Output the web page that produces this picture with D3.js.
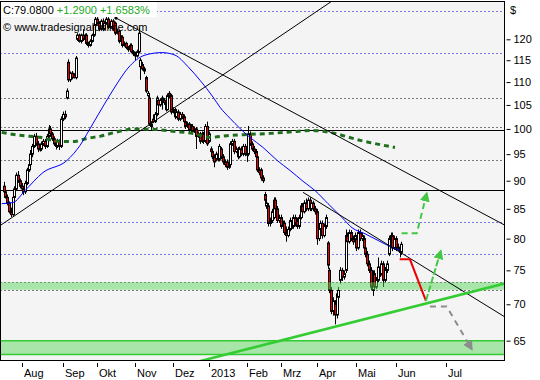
<!DOCTYPE html>
<html><head><meta charset="utf-8">
<script src="https://cdn.jsdelivr.net/npm/d3@7"></script>
<style>
body{margin:0;background:#fff}
svg{display:block}
text{font-family:"Liberation Sans",Arial,sans-serif;font-size:11px}
</style>
</head><body>
<svg id="c" width="540" height="380"></svg>
<script>
// ---- daily OHLC bars, 18 Jul 2012 onwards ----
const ohlc = [
[89,89.8,87.6,88],[88,88.6,86.8,87],[87,87.5,85.6,86],[86,86.3,84.2,84.5],[84.5,85.2,83.6,84],
[84,87.4,83.8,87],[87,89,86.6,88.5],[88.5,91.5,88.2,91],[91,91.8,89.6,90],[90,90.4,88.6,89],
[89,89.6,87.8,88.5],[88.5,89,87.4,88],[88,90,87.6,89.5],[89.5,92.4,89.2,92],[92,93.5,91.6,93],
[93,95.8,92.8,95],[95,97,94.4,96.5],[96.5,99,96.2,98.5],[98.5,99.2,96.6,97],[97,97.6,95.4,96],
[96,97,95.5,96],[96,97.5,95.6,97],[97,98,96.6,97.5],[97.5,98,96,96.5],[96.5,99,96.2,98.5],
[98.5,100.8,98.2,100],[100,100.6,98.6,99],[99,99.4,97.6,98],[98,98.5,96.6,97],[97,97.4,95.9,96.5],
[96.5,98,96.2,97.5],[97.5,97.9,95.8,96.5],[96.5,102.6,96.2,102],[102,103.6,101.6,103],[103,103.8,102,102.5],
[106.5,108.6,106.2,108],[114.5,115.2,110,110.5],[110.5,112.4,110,112],[112,112.5,110.6,111],[111.5,112,110.8,111],
[111,116,110.6,115.5],[120,121.5,119.6,121],[121,121.4,119.2,119.5],[119.5,121.4,119,121],[121,122.5,119.6,120],
[120,121.4,119.6,121],[121,121.5,118.6,119],[119,119.4,118,118.5],[118.5,120,118.2,119.5],[119.5,121.4,119.2,121],
[121,124,120.6,123.5],[123.5,125.8,123.2,125],[125,126,123.6,124],[124,124.5,122,122.5],[122.5,125,122.2,124.5],
[124.5,125.2,122,122.5],[122.5,124.5,122.2,124],[124,126,123.6,125],[125,125.5,122.6,123],[123,124,122.6,123.5],
[123,125,122.6,124.5],[124.5,125,122,122.5],[124,124.4,121,121.5],[121.5,122.6,121.2,122],[122,122.4,119,119.5],
[119.5,121,119.2,120.5],[120.5,121,118,118.5],[118.5,119.5,118.2,119],[119,119.4,117.6,118],[118,118.4,117,117.5],
[117.5,119,117.2,118.5],[118.5,119,116.6,117],[117,117.4,116,116.5],[116.5,117,115,116],[116,117.5,115.6,117],
[117,122.8,116.6,121.5],[113.5,115.5,110.5,115],[114,114.6,112.6,113],[113,113.5,111.8,112.5],[111,111.4,107.6,108],
[107,108,106.6,107.5],[106.5,107,100.6,101],[101,101.6,99.8,100.5],[102,103,101.2,101.5],[101.5,103.5,101.2,103],
[103,107,102.6,106.5],[106,106.5,104.6,105],[105,106.4,104.6,106],[106,107,104,106.5],[106,106.5,105,105.5],
[105.5,106,103.6,104],[104,107.5,103.8,107],[107.5,108,106.5,107],[107,107.4,103,103.5],[103.5,104.5,103.2,104],
[104,104.4,102,102.5],[102.5,104,102.2,103.5],[103.5,104,101.6,102],[102,103.5,101.6,103],[103,103.5,102,102.5],
[102.5,103,101,101.5],[101.5,102,100,100.5],[100.5,101.5,100.2,101],[101,101.4,99.4,99.8],[99.8,101,99.5,100.5],
[100.5,101,99,99.5],[99.5,100.5,99.2,100],[100,100.4,96,98.5],[98.5,99.5,98.2,99],[99,99.4,97,97.5],
[97.5,99.5,97.2,99],[99,99.4,97,97.5],[97.5,101,97.2,100.5],[100.5,101.5,96.6,97],[97.5,99.5,97.2,99],
[96,96.5,95,95.5],[95.5,96,94,94.5],[94.5,95,92.5,93.5],[94,95.5,93.6,95],[95,95.4,93.6,94],
[94,97,93.6,96.5],[96,96.4,94,94.5],[94.5,95,93,93.5],[93.5,94,92.5,93],[93.5,94,92,92.5],
[92.5,93.5,92.2,93],[93,97.5,92.6,97],[97,98,96.6,97.5],[97.5,98,95,95.5],[95.5,96.5,95.2,96],
[96,96.4,94,94.5],[94.5,96.5,94.2,96],[96,96.5,94.6,95],[95,97,94.6,96.5],[96.5,97,94.6,95],
[95,95.5,93.5,95],[95,100.6,94.6,99],[99,99.5,96.6,97],[97,97.5,95.6,96],[96,96.6,95,95.5],
[95.5,96,94,94.5],[94.5,95,91.6,92],[92,92.5,91,91.5],[92,92.4,90,90.5],[90.5,91,89.6,90],
[87.5,88,86,86.5],[85.5,86.5,85,86],[85.5,86,82,82.5],[82.5,83.5,82,83],[83,85,82.6,84.5],
[83.5,87,83.2,86.5],[86.5,87,84.6,85],[85,85.5,82.6,83],[83,84,82.6,83.5],[83.5,84,81.6,82],
[82,83,81.6,82.5],[82.5,83,80.6,81],[81,82,79.5,80.5],[80.5,82,80.2,81.5],[81.5,83.5,81.2,83],
[83,83.4,81.6,82],[82,84,81.6,83.5],[83.5,84,82,82.5],[83,83.5,81.6,82],[82,84,81.6,83.5],
[83.5,86,83.2,85.5],[85.5,86,84,84.5],[84.5,86.5,84.2,86],[86,86.8,84.6,85],[85,87,84.6,86.5],
[86.5,87,84.6,85],[85,86.5,84.6,86],[86,86.4,84.6,85],[85,85.5,84,84.5],[84.5,85,79,80],
[80,82,79.6,81.5],[81.5,83,81,82.5],[82.5,83,80,80.5],[80.5,82.5,80.2,82],[82,84,81.6,83.5],
[79.3,79.6,75.2,75.8],[75,75.4,71.6,72],[72,72.5,68.6,69],[69,71,68.4,70.5],[70,70.6,67.2,68.5],
[68.5,72,68,71.5],[71,72.5,70.6,72],[73.5,75.5,73,75],[75,75.4,73.4,74],[74,75,73.6,74.5],
[75,81.5,74.6,80.5],[80.5,81,79,79.5],[79.5,81.5,79.2,81],[81,81.4,79.6,80],[80,80.5,79,79.5],
[79.5,81,79.2,80.5],[80,80.4,78,78.5],[78.5,81.5,78.2,81],[81,81.5,79.6,80],[80,81,79.6,80.5],
[80,80.5,78,78.5],[78.5,79,77,77.5],[77.5,78,75.6,76],[76,76.5,74.6,75],[75,75.5,72,72.5],
[72,75,71.2,74.5],[74.5,75,72,72.5],[72.5,74,72.2,73.5],[73.5,77,73.2,75.5],[75.5,76,74,74.5],
[74.5,76.5,74.2,76],[76,76.4,72.5,73.5],[73.5,75.5,73.2,75],[75,76.5,74.6,76],[77.5,80.5,77.2,80],
[80,81,79.6,80.5],[80.5,81,78,78.5],[78.5,80.5,78.2,80],[80,80.4,78,78.5],[78.5,79.2,78,78.6],
[78.6,79,77,77.79],[77.79,79.5,77.4,79.08]
];

// moving averages: [bar index, price]
const blueMA = [[-1,85.9],[5.3,86.1],[11.9,88.2],[21.9,91.5],[35.3,93.8],[42.5,96.7],[47.5,99.7],[50.8,101.8],
 [56.4,105.4],[61.9,108.9],[69.2,113.2],[78.6,116.2],[88.1,116.8],[95.3,116.2],[102.5,113.5],[109.2,110.4],
 [116.4,106.7],[120.3,104.5],[125.8,102.2],[131.4,100.1],[136.9,98.3],[144.2,96.3],[152,93.8],[159.2,91.9],
 [166.4,89.9],[173.1,88.2],[180.3,85.9],[188.1,83.5],[193.6,81.8],[200.8,80.8],[208.1,79.7],[215.8,78.6],[220.3,78.1]];
const greenMA = [[-1,99.3],[9.2,98.7],[20.3,98.3],[31.4,97.5],[39.7,97.5],[46.4,98.1],[53.6,98.5],[61.9,99.3],
 [73.1,100.0],[84.2,99.9],[95.3,99.5],[106.4,99.0],[114.7,98.3],[125.8,98.7],[136.9,98.9],[148.1,99.1],
 [163.1,99.5],[170.3,99.7],[181.4,99.3],[198.1,97.7],[217.5,96.3]];

// axes
const monthLabels = ["Aug","Sep","Okt","Nov","Dez","2013","Feb","Mrz","Apr","Mai","Jun","Jul"];
const monthIdx    = [10,33,52,73,94,114,135,154,174,196,218,246];
const yTicks = [65,70,75,80,85,90,95,100,105,110,115,120];

// horizontal levels and zones
const hSolid = [99.8, 88.4];
const hDotBlack = [106.5, 100.3, 93.8, 73.2, 72.1];
const hDotBlue = [127.1, 116.7, 82.8, 77.6];
const zones = [[72.1,73.2],[63.2,65.0]];

// trend lines [index, price]
const trendUp = [[0.8,82.7],[158.1,122.1]];
const trendDown1 = [[62.5,125.3],[278,82.3]];
const trendDown2 = [[166.4,87.9],[278,68.3]];
const support = [[155.3,65.1],[278,73.0]];

// scenario paths
const projRed = [[220.1,76.7],[225.8,76.7],[234.7,70.5]];
const projUp = [[234.7,70.5],[242.9,78.0]];
const projDown = [[236.9,69.7],[246.2,69.7],[260.1,63.9]];
const projBreak = [[221.2,80.9],[229.6,80.9],[235.1,87.7]];

const header1 = "C:79.0800", header2 = "+1.2900 +1.6583%", copyright = "© www.tradesignalonline.com";

// ---------------- drawing ----------------
const svg = d3.select("#c");
const L = 0.5, R = 504.5, T = 1.5, B = 360.5;
const x = d3.scaleLinear().domain([0, ohlc.length - 1]).range([3.5, 3.5 + 1.8 * (ohlc.length - 1)]);
const y = d3.scaleLog().domain([65, 120]).range([340.7, 39.3]);

svg.append("rect").attr("width",540).attr("height",380).attr("fill","#fff");
svg.append("defs").append("clipPath").attr("id","clip").append("rect")
  .attr("x",L).attr("y",T).attr("width",R-L).attr("height",B-T);
const defs = svg.select("defs");
function marker(id,color){
  defs.append("marker").attr("id",id).attr("viewBox","0 0 10 10").attr("refX",8).attr("refY",5)
   .attr("markerWidth",5).attr("markerHeight",5).attr("orient","auto-start-reverse")
   .append("path").attr("d","M0,0L10,5L0,10z").attr("fill",color);
}
marker("mg","#44c844"); marker("mgr","#8c8c8c");

svg.append("rect").attr("x",L).attr("y",T).attr("width",R-L).attr("height",B-T).attr("fill","#f4f4f4");
const g = svg.append("g").attr("clip-path","url(#clip)");

// dotted levels
g.selectAll(".db").data(hDotBlack).join("line").attr("x1",L).attr("x2",R)
  .attr("y1",d=>Math.round(y(d))+0.5).attr("y2",d=>Math.round(y(d))+0.5)
  .attr("stroke","#000").attr("stroke-dasharray","1,3");
g.selectAll(".dbl").data(hDotBlue).join("line").attr("x1",L).attr("x2",R)
  .attr("y1",d=>Math.round(y(d))+0.5).attr("y2",d=>Math.round(y(d))+0.5)
  .attr("stroke","#0000cc").attr("stroke-dasharray","1,3");
g.selectAll(".hs").data(hSolid).join("line").attr("x1",L).attr("x2",R)
  .attr("y1",d=>Math.round(y(d))+0.5).attr("y2",d=>Math.round(y(d))+0.5)
  .attr("stroke","#000");

// candles
const cg = g.append("g");
ohlc.forEach((d,i)=>{
  const cx = Math.round(x(i)) + 0.5;
  const [o,h,l,c] = d;
  cg.append("line").attr("x1",cx).attr("x2",cx).attr("y1",y(h)).attr("y2",y(l)).attr("stroke","#000");
  const top = y(Math.max(o,c)), bot = y(Math.min(o,c));
  cg.append("rect").attr("x",cx-1).attr("width",2).attr("y",top).attr("height",Math.max(1,bot-top))
    .attr("fill", c < o ? "#ee0000" : "#fff").attr("stroke","#000").attr("stroke-width",1);
});

// zones (translucent, over candles)
g.selectAll(".zone").data(zones).join("rect").attr("x",L).attr("width",R-L)
  .attr("y",d=>y(d[1])).attr("height",d=>y(d[0])-y(d[1]))
  .attr("fill","#5cd65c").attr("opacity",0.5);
g.append("line").attr("x1",L).attr("x2",R).attr("y1",y(zones[1][1])).attr("y2",y(zones[1][1]))
  .attr("stroke","#33cc33").attr("stroke-width",1.5);
g.append("line").attr("x1",L).attr("x2",R).attr("y1",y(zones[1][0])).attr("y2",y(zones[1][0]))
  .attr("stroke","#33cc33").attr("stroke-width",1.5);

const line = d3.line().x(d=>x(d[0])).y(d=>y(d[1]));

// moving averages
g.append("path").datum(greenMA).attr("d",line.curve(d3.curveMonotoneX)).attr("fill","none")
  .attr("stroke","#1e6e1e").attr("stroke-width",3).attr("stroke-dasharray","5,4");
g.append("path").datum(blueMA).attr("d",line.curve(d3.curveMonotoneX)).attr("fill","none")
  .attr("stroke","#0000ff").attr("stroke-width",1);
line.curve(d3.curveLinear);

// trend lines, extended across the plot
function ext(p, both){
  const a=[x(p[0][0]),y(p[0][1])], b=[x(p[1][0]),y(p[1][1])];
  const dx=b[0]-a[0], dy=b[1]-a[1], t0 = both ? -6 : 0, t1 = 6;
  return [[a[0]+dx*t0,a[1]+dy*t0],[a[0]+dx*t1,a[1]+dy*t1]];
}
[[trendUp,true],[trendDown1,false],[trendDown2,false]].forEach(([p,both])=>{
  const e = ext(p,both);
  g.append("line").attr("x1",e[0][0]).attr("y1",e[0][1]).attr("x2",e[1][0]).attr("y2",e[1][1])
    .attr("stroke","#000").attr("stroke-width",1);
});
g.append("circle").attr("cx",x(trendDown1[0][0])).attr("cy",y(trendDown1[0][1])).attr("r",1.6).attr("fill","#000");
{
  const e = ext(support,true);
  g.append("line").attr("x1",e[0][0]).attr("y1",e[0][1]).attr("x2",e[1][0]).attr("y2",e[1][1])
    .attr("stroke","#33cc33").attr("stroke-width",2.5);
}

// scenario paths
g.append("path").datum(projRed).attr("d",line).attr("fill","none").attr("stroke","#ee0000").attr("stroke-width",2);
g.append("path").datum(projUp).attr("d",line).attr("fill","none").attr("stroke","#44c844").attr("stroke-width",2)
  .attr("stroke-dasharray","7,2").attr("marker-end","url(#mg)");
g.append("path").datum(projBreak).attr("d",line).attr("fill","none").attr("stroke","#44c844").attr("stroke-width",2)
  .attr("stroke-dasharray","6,4").attr("marker-end","url(#mg)");
g.append("path").datum(projDown).attr("d",line).attr("fill","none").attr("stroke","#8c8c8c").attr("stroke-width",2)
  .attr("stroke-dasharray","6,5").attr("marker-end","url(#mgr)");

// frame
svg.append("rect").attr("x",L).attr("y",T).attr("width",R-L).attr("height",B-T).attr("fill","none").attr("stroke","#000");

// y axis (right)
const yAxis = d3.axisRight(y).tickValues(yTicks).tickSize(4).tickPadding(3).tickFormat(d3.format("d"));
const ya = svg.append("g").attr("transform",`translate(${R+2},0)`).call(yAxis);
ya.select(".domain").remove();
ya.selectAll("text").attr("fill","#000").style("font-size","11px");
ya.selectAll("line").attr("stroke","#000");
svg.append("text").attr("x",510).attr("y",14).text("$").attr("fill","#000");

// x axis (months)
const xa = svg.append("g");
monthIdx.forEach((m,k)=>{
  const px = Math.round(x(m)) + 0.5;
  xa.append("line").attr("x1",px).attr("x2",px).attr("y1",363).attr("y2",367).attr("stroke","#000");
  xa.append("text").attr("x",px+1.5).attr("y",377).text(monthLabels[k]).attr("fill","#000");
});

// header
svg.append("rect").attr("x",1).attr("y",2).attr("width",156).attr("height",15).attr("fill","#fff");
const ht = svg.append("text").attr("x",3).attr("y",14);
ht.append("tspan").text(header1).attr("fill","#000");
ht.append("tspan").text(" " + header2).attr("fill","#22aa22");
svg.append("text").attr("x",3).attr("y",31).text(copyright).attr("fill","#000");
</script>
</body></html>
